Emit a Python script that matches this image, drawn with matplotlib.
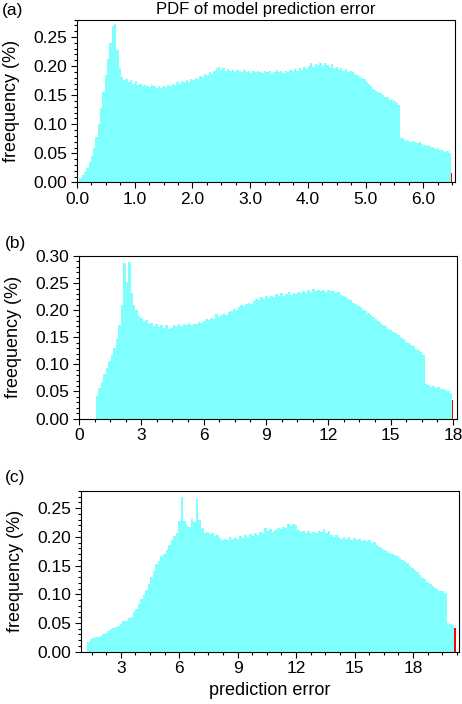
#!/usr/bin/env python3
"""
PDF of model prediction error: three histogram panels (a), (b), (c)
"""

import matplotlib
matplotlib.use('Agg')
import matplotlib.pyplot as plt
import numpy as np
from matplotlib.ticker import MultipleLocator, FormatStrFormatter

plt.rcParams['font.family'] = ['Liberation Sans', 'DejaVu Sans']

# ---- panel (a) ----
a_bin_start = 0.04
a_bin_width = 0.04
a_freq = [
    0.008, 0.013, 0.018, 0.025, 0.035, 0.046, 0.059, 0.078, 0.100, 0.128,
    0.155, 0.185, 0.212, 0.240, 0.268, 0.272, 0.228, 0.197, 0.182, 0.176,
    0.178, 0.172, 0.176, 0.170, 0.174, 0.167, 0.169, 0.165, 0.167, 0.166,
    0.164, 0.167, 0.165, 0.163, 0.166, 0.162, 0.165, 0.164, 0.168, 0.166,
    0.170, 0.168, 0.172, 0.170, 0.174, 0.172, 0.176, 0.173, 0.178, 0.176,
    0.180, 0.178, 0.183, 0.181, 0.186, 0.184, 0.189, 0.187, 0.192, 0.196,
    0.199, 0.194, 0.197, 0.192, 0.195, 0.191, 0.194, 0.190, 0.193, 0.191,
    0.189, 0.193, 0.190, 0.192, 0.188, 0.191, 0.189, 0.192, 0.190, 0.188,
    0.191, 0.189, 0.192, 0.188, 0.190, 0.193, 0.189, 0.191, 0.188, 0.192,
    0.190, 0.193, 0.191, 0.195, 0.192, 0.196, 0.194, 0.198, 0.195, 0.200,
    0.206, 0.199, 0.203, 0.201, 0.205, 0.200, 0.206, 0.202, 0.199, 0.203,
    0.197, 0.199, 0.194, 0.196, 0.192, 0.195, 0.190, 0.192, 0.189, 0.187,
    0.185, 0.182, 0.179, 0.177, 0.172, 0.170, 0.166, 0.161, 0.158, 0.155,
    0.154, 0.150, 0.146, 0.147, 0.142, 0.143, 0.140, 0.136, 0.133, 0.077,
    0.074, 0.072, 0.073, 0.070, 0.071, 0.069, 0.068, 0.069, 0.066, 0.065,
    0.063, 0.064, 0.061, 0.060, 0.058, 0.059, 0.056, 0.055, 0.053, 0.054,
    0.051,
]
a_last_x = 6.49       # last (overflow) bin, drawn in red
a_last_freq = 0.017

# ---- panel (b) ----
b_bin_start = 0.80
b_bin_width = 0.12
b_freq = [
    0.042, 0.056, 0.068, 0.082, 0.094, 0.106, 0.117, 0.130, 0.146, 0.172,
    0.210, 0.288, 0.252, 0.289, 0.232, 0.210, 0.201, 0.190, 0.186, 0.178,
    0.181, 0.174, 0.177, 0.170, 0.175, 0.169, 0.173, 0.168, 0.172, 0.166,
    0.168, 0.173, 0.170, 0.175, 0.171, 0.174, 0.172, 0.176, 0.173, 0.175,
    0.174, 0.178, 0.176, 0.180, 0.184, 0.181, 0.186, 0.184, 0.193, 0.188,
    0.191, 0.194, 0.192, 0.197, 0.199, 0.203, 0.201, 0.206, 0.209, 0.207,
    0.211, 0.214, 0.212, 0.217, 0.220, 0.218, 0.224, 0.221, 0.226, 0.223,
    0.227, 0.224, 0.229, 0.226, 0.231, 0.227, 0.230, 0.233, 0.228, 0.232,
    0.229, 0.233, 0.231, 0.235, 0.232, 0.237, 0.234, 0.239, 0.236, 0.238,
    0.235, 0.238, 0.234, 0.237, 0.235, 0.236, 0.232, 0.233, 0.228, 0.226,
    0.224, 0.220, 0.218, 0.214, 0.212, 0.208, 0.205, 0.201, 0.198, 0.194,
    0.191, 0.187, 0.184, 0.180, 0.176, 0.172, 0.170, 0.166, 0.163, 0.160,
    0.158, 0.154, 0.150, 0.147, 0.142, 0.140, 0.136, 0.133, 0.129, 0.127,
    0.122, 0.118, 0.063, 0.061, 0.059, 0.060, 0.057, 0.058, 0.055, 0.054,
    0.052, 0.050, 0.048,
]
b_last_x = 17.99
b_last_freq = 0.035

# ---- panel (c) ----
c_bin_start = 1.27
c_bin_width = 0.13
c_freq = [
    0.017, 0.022, 0.023, 0.025, 0.026, 0.028, 0.030, 0.033, 0.036, 0.040,
    0.042, 0.043, 0.045, 0.049, 0.053, 0.054, 0.058, 0.061, 0.069, 0.075,
    0.083, 0.092, 0.098, 0.108, 0.118, 0.130, 0.140, 0.152, 0.158, 0.166,
    0.170, 0.178, 0.186, 0.195, 0.201, 0.206, 0.228, 0.270, 0.228, 0.220,
    0.218, 0.232, 0.226, 0.266, 0.230, 0.215, 0.207, 0.209, 0.205, 0.206,
    0.201, 0.203, 0.198, 0.195, 0.197, 0.194, 0.199, 0.196, 0.200, 0.197,
    0.201, 0.198, 0.203, 0.200, 0.205, 0.202, 0.207, 0.204, 0.209, 0.206,
    0.215, 0.210, 0.213, 0.209, 0.212, 0.215, 0.213, 0.218, 0.216, 0.222,
    0.219, 0.223, 0.220, 0.212, 0.209, 0.211, 0.207, 0.210, 0.206, 0.209,
    0.207, 0.211, 0.208, 0.213, 0.206, 0.210, 0.204, 0.200, 0.203, 0.199,
    0.197, 0.200, 0.196, 0.199, 0.195, 0.198, 0.194, 0.197, 0.193, 0.195,
    0.192, 0.194, 0.189, 0.191, 0.186, 0.182, 0.180, 0.177, 0.175, 0.172,
    0.171, 0.168, 0.166, 0.163, 0.160, 0.158, 0.154, 0.150, 0.146, 0.142,
    0.138, 0.133, 0.129, 0.126, 0.121, 0.118, 0.115, 0.111, 0.107, 0.105,
    0.105, 0.103, 0.050, 0.048, 0.046,
]
c_last_x = 20.16
c_last_freq = 0.041

CYAN = '#80ffff'
RED = '#ff0000'


def draw_panel(ax, bin_start, bin_width, freq, last_x, last_freq,
               xlim, ylim, xmajor, xminor, xfmt):
    """Один гистограммный график"""
    edges = bin_start + bin_width * np.arange(len(freq) + 1)
    ax.stairs(freq, edges, fill=True, color=CYAN, linewidth=0)
    # последний (переполненный) интервал
    ax.bar(last_x, last_freq, width=xlim[1] * 0.0035, color=RED, linewidth=0)

    ax.set_xlim(*xlim)
    ax.set_ylim(*ylim)
    ax.xaxis.set_major_locator(MultipleLocator(xmajor))
    ax.xaxis.set_minor_locator(MultipleLocator(xminor))
    ax.xaxis.set_major_formatter(FormatStrFormatter(xfmt))
    ax.yaxis.set_major_locator(MultipleLocator(0.05))
    ax.yaxis.set_minor_locator(MultipleLocator(0.01))
    ax.yaxis.set_major_formatter(FormatStrFormatter('%.2f'))

    ax.tick_params(which='both', direction='out', top=False, right=False,
                   labelsize=12.5, width=0.8)
    ax.tick_params(which='major', length=4, pad=3)
    ax.tick_params(which='minor', length=2.2)
    for sp in ax.spines.values():
        sp.set_linewidth(0.8)
    ax.set_ylabel('freequency (%)', fontsize=13)


fig = plt.figure(figsize=(4.62, 7.04), dpi=100)

ax_a = fig.add_axes([0.1667, 0.7408, 0.8182, 0.2315])
ax_b = fig.add_axes([0.1710, 0.4055, 0.8182, 0.2308])
ax_c = fig.add_axes([0.1753, 0.0743, 0.8182, 0.2283])

draw_panel(ax_a, a_bin_start, a_bin_width, a_freq, a_last_x, a_last_freq,
           (0, 6.55), (0, 0.28), 1.0, 0.25, '%.1f')
draw_panel(ax_b, b_bin_start, b_bin_width, b_freq, b_last_x, b_last_freq,
           (0, 18.2), (0, 0.30), 3, 0.75, '%d')
draw_panel(ax_c, c_bin_start, c_bin_width, c_freq, c_last_x, c_last_freq,
           (0.96, 20.36), (0, 0.28), 3, 0.75, '%d')

ax_a.set_title('PDF of model prediction error', fontsize=12, pad=4)
ax_c.set_xlabel('prediction error', fontsize=13, labelpad=4)

for ax in (ax_a, ax_b, ax_c):
    ax.yaxis.set_label_coords(-0.15, 0.5)

fig.text(0.004, 0.996, '(a)', fontsize=12.5, ha='left', va='top')
fig.text(0.010, 0.665, '(b)', fontsize=12.5, ha='left', va='top')
fig.text(0.010, 0.333, '(c)', fontsize=12.5, ha='left', va='top')

plt.savefig('out.png', dpi=100)
